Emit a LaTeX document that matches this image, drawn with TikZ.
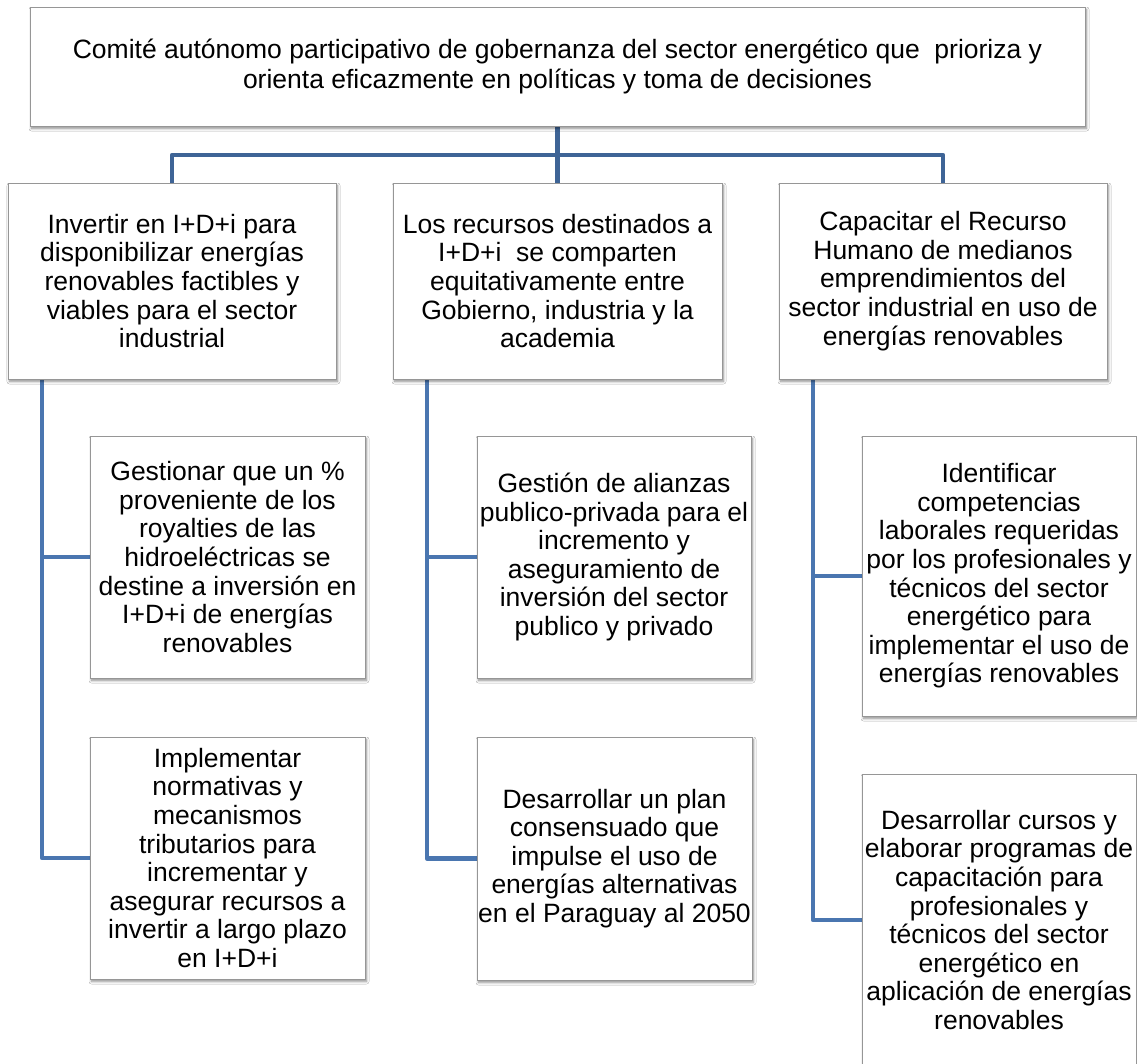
\documentclass[tikz,border=0pt]{standalone}
\usepackage{fontspec}
\setmainfont{Liberation Sans}
\usetikzlibrary{shadows.blur,backgrounds}
\definecolor{conntop}{RGB}{62,100,150}
\definecolor{connlow}{RGB}{74,118,176}
\definecolor{boxline}{RGB}{150,150,150}
\tikzset{
  box/.style={draw=boxline, line width=1pt, fill=white, inner sep=0pt, align=center,
    font=\fontsize{26.5}{28.6}\selectfont,
    blur shadow={shadow xshift=1.5pt, shadow yshift=-2.5pt, shadow blur radius=2.5pt, shadow opacity=45, shadow blur steps=6}},
  conna/.style={draw=conntop, line width=4.6pt, line join=round, line cap=butt},
  connb/.style={draw=connlow, line width=4.6pt, line join=round, line cap=butt}
}
\begin{document}
\begin{tikzpicture}[x=1pt,y=-1pt]
\useasboundingbox (0,0) rectangle (1137,1063);
\clip (0,0) rectangle (1137,1063);
% top
\node[box, minimum width=1055pt, minimum height=119pt, font=\fontsize{26.5}{30}\selectfont] (top) at (557.5,66.5)
  {Comité autónomo participativo de gobernanza del sector energético que\ \ prioriza y\\orienta eficazmente en políticas y toma de decisiones};
% level 2
\node[box, minimum width=328pt, minimum height=196pt] (b1) at (172,281)
  {Invertir en I+D+i para\\disponibilizar energías\\renovables factibles y\\viables para el sector\\industrial};
\node[box, minimum width=329pt, minimum height=196pt] (b2) at (557.5,281)
  {Los recursos destinados a\\I+D+i\ \ se comparten\\equitativamente entre\\Gobierno, industria y la\\academia};
\node[box, minimum width=328pt, minimum height=196pt] (b3) at (943,281)
  {Capacitar el Recurso\\Humano de medianos\\emprendimientos del\\sector industrial en uso de\\energías renovables};
% level 3 left
\node[box, minimum width=275pt, minimum height=242pt] (L1) at (227.5,557)
  {Gestionar que un \%\\proveniente de los\\royalties de las\\hidroeléctricas se\\destine a inversión en\\I+D+i de energías\\renovables};
\node[box, minimum width=275pt, minimum height=242pt] (L2) at (227.5,858)
  {Implementar\\normativas y\\mecanismos\\tributarios para\\incrementar y\\asegurar recursos a\\invertir a largo plazo\\en I+D+i};
% level 3 middle
\node[box, minimum width=274pt, minimum height=242pt] (M1) at (614,557)
  {Gestión de alianzas\\publico-privada para el\\incremento y\\aseguramiento de\\inversión del sector\\publico y privado};
\node[box, minimum width=275pt, minimum height=243pt] (M2) at (614.5,858.5)
  {Desarrollar un plan\\consensuado que\\impulse el uso de\\energías alternativas\\en el Paraguay al 2050};
% level 3 right
\node[box, minimum width=274pt, minimum height=280pt] (R1) at (999,576)
  {Identificar\\competencias\\laborales requeridas\\por los profesionales y\\técnicos del sector\\energético para\\implementar el uso de\\energías renovables};
\node[box, minimum width=274pt, minimum height=292pt] (R2) at (999,920)
  {Desarrollar cursos y\\elaborar programas de\\capacitación para\\profesionales y\\técnicos del sector\\energético en\\aplicación de energías\\renovables};
% coordinates
\coordinate (bus) at (557.5,155);
\coordinate (a1) at (42,379);
\coordinate (a2) at (427,379);
\coordinate (a3) at (813,379);
\begin{scope}[on background layer]
\fill[white] (0,0) rectangle (1137,1063);
\draw[conna] (top.south) -- (b2.north);
\draw[conna] (b1.north) |- (bus) -| (b3.north);
\draw[connb] (a1) |- (L2.west);
\draw[connb] (a1 |- L1.west) -- (L1.west);
\draw[connb] (a2) |- (M2.west);
\draw[connb] (a2 |- M1.west) -- (M1.west);
\draw[connb] (a3) |- (R2.west);
\draw[connb] (a3 |- R1.west) -- (R1.west);
\end{scope}
\end{tikzpicture}
\end{document}
